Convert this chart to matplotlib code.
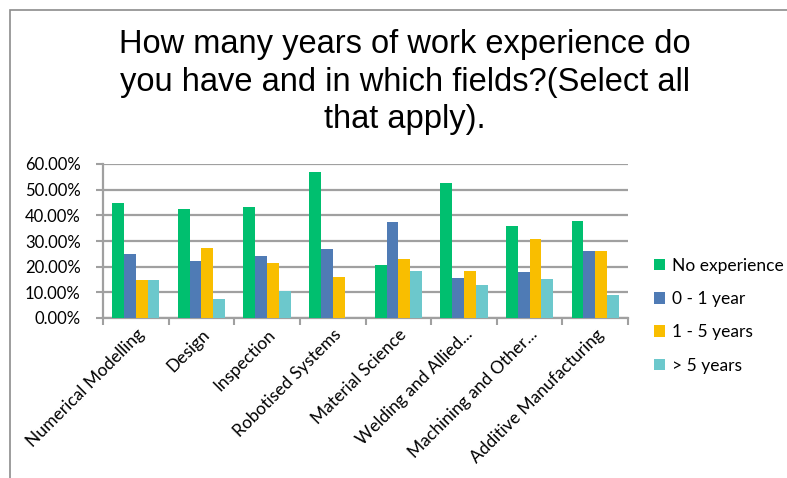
import matplotlib.pyplot as plt
import numpy as np
from matplotlib.patches import Rectangle
from matplotlib.ticker import FuncFormatter, FixedLocator

# Dados
categories = ["Numerical Modelling", "Design", "Inspection", "Robotised Systems",
              "Material Science", "Welding and Allied...", "Machining and Other...",
              "Additive Manufacturing"]
series_names = ["No experience", "0 - 1 year", "1 - 5 years", "> 5 years"]
no_experience = [45.0, 42.6, 43.2, 56.8, 20.6, 52.6, 36.0, 37.9]
zero_one = [24.9, 22.3, 24.2, 26.9, 37.4, 15.7, 17.9, 26.2]
one_five = [14.7, 27.3, 21.3, 16.1, 23.1, 18.2, 30.8, 26.2]
over_five = [14.7, 7.4, 10.5, 0.0, 18.4, 13.0, 15.1, 9.1]
colors = ["#00BF6F", "#4F7BB5", "#F9BE00", "#6CC8CC"]

title = "How many years of work experience do\nyou have and in which fields?(Select all\nthat apply)."

fig = plt.figure(figsize=(7.87, 4.78), dpi=100)
ax = fig.add_axes([103 / 787, 1 - 318 / 478, 525 / 787, 154 / 478])

# Moldura externa do gráfico
fig.patches.append(Rectangle((10 / 787, -0.1), 1.1, 1 - 10 / 478 + 0.1,
                             transform=fig.transFigure, fill=False,
                             edgecolor="#8C8C8C", linewidth=1.2))

x = np.arange(len(categories))
w = 0.18
data = [no_experience, zero_one, one_five, over_five]
for i, (vals, name, c) in enumerate(zip(data, series_names, colors)):
    ax.bar(x + (i - 1.5) * w, np.array(vals) / 100, w, color=c, label=name, zorder=3)

ax.set_xlim(-0.5, len(categories) - 0.5)
ax.set_ylim(0, 0.6)
ax.set_yticks(np.arange(0, 0.61, 0.1))
ax.yaxis.set_major_formatter(FuncFormatter(lambda v, p: f"{v * 100:.2f}%"))
ax.grid(axis="y", color="#A0A0A0", linewidth=1.6, zorder=0)

# Marcas entre categorias, rótulos no centro
ax.xaxis.set_major_locator(FixedLocator(np.arange(-0.5, len(categories), 1.0)))
ax.xaxis.set_major_formatter(FuncFormatter(lambda v, p: ""))
ax.xaxis.set_minor_locator(FixedLocator(x))
ax.set_xticklabels(categories, minor=True, rotation=45, ha="right",
                   rotation_mode="anchor", fontsize=12.5, family="Lato")
ax.tick_params(axis="x", which="minor", length=0, pad=6)
ax.tick_params(axis="x", which="major", length=5, width=1.5, color="#A0A0A0")
ax.tick_params(axis="y", length=5, width=1.5, color="#A0A0A0", labelsize=12, pad=11)
for lbl in ax.get_yticklabels():
    lbl.set_family("Lato")

for s in ["top", "right"]:
    ax.spines[s].set_visible(False)
for s in ["left", "bottom"]:
    ax.spines[s].set_color("#A0A0A0")
    ax.spines[s].set_linewidth(1.6)

fig.text(405 / 787, 1 - 82 / 478, title, ha="center", va="center",
         fontsize=23.5, family="Liberation Sans", linespacing=1.26)

leg = ax.legend(loc="upper left", bbox_to_anchor=(638 / 787, 1 - 242 / 478),
                bbox_transform=fig.transFigure, frameon=False,
                prop={"family": "Lato", "size": 12.5}, handlelength=0.65,
                handleheight=0.65, handletextpad=0.4, labelspacing=1.0)

fig.savefig("out.png", dpi=100)
